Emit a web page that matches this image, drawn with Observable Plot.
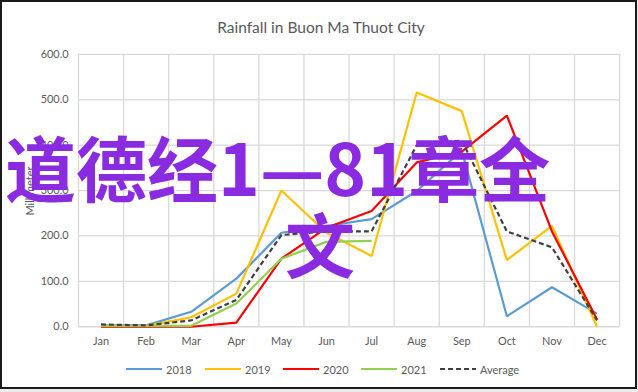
<!DOCTYPE html>
<html>
<head>
<meta charset="utf-8">
<script src="https://cdn.jsdelivr.net/npm/d3@7"></script>
<script src="https://cdn.jsdelivr.net/npm/@observablehq/plot@0.6"></script>
<style>
  html, body { margin: 0; padding: 0; background: #ececec; }
  #frame { position: absolute; left: 0; top: 0; width: 637px; height: 389px; box-sizing: border-box;
           border: 2px solid #1a1a1a; background: #fff; overflow: hidden; font-family: Lato, "Open Sans", sans-serif; }
  #title { position: absolute; left: 0; width: 638px; top: 16px; text-align: center; font-size: 15.5px; color: #595959; }
  #chart { position: absolute; left: -2px; top: 38px; }
  #ylabel { position: absolute; left: 27px; top: 189px; transform: translate(-50%, -50%) rotate(-90deg);
            font-size: 11px; color: #595959; white-space: nowrap; }
  #legend { position: absolute; top: 358px; left: 0; width: 638px; height: 18px; }
  .li { position: absolute; top: 0; height: 18px; display: flex; align-items: center; font-size: 11px; color: #595959; }
  .li svg { margin-right: 4px; }
  .over { position: absolute; color: #8A2BE2; font-family: "Noto Sans CJK SC", sans-serif; font-weight: 700;
          white-space: nowrap; line-height: 1; }
</style>
</head>
<body>
<div id="frame">
  <div id="title">Rainfall in Buon Ma Thuot City</div>
  <div id="chart"></div>
  <div id="ylabel">Millimeter</div>
  <div id="legend"></div>
  <div class="over" id="over1" style="left:3px; top:128px; font-size:71px;">道德经1—81章全</div>
  <div class="over" id="over2" style="left:283px; top:206px; font-size:70px;">文</div>
</div>
<script>
const months = ["Jan","Feb","Mar","Apr","May","Jun","Jul","Aug","Sep","Oct","Nov","Dec"];
const yTicks = [0, 100, 200, 300, 400, 500, 600];
const s2018 = [3, 3, 33, 106, 207, 222, 237, 299, 388, 23, 87, 29];
const s2019 = [0, 2, 21, 73, 300, 207, 156, 516, 475, 147, 222, 0];
const s2020 = [0, 0, 0, 9, 150, 218, 255, 362, 386, 465, 210, 16];
const s2021 = [2, 2, 2, 51, 150, 187, 189];
const sAvg  = [5, 3, 14, 59, 202, 210, 210, 400, 410, 210, 175, 14];

const seriesNames = ["2018", "2019", "2020", "2021", "Average"];
const seriesValues = [s2018, s2019, s2020, s2021, sAvg];
const seriesColors = ["#5B9BD5", "#FFC000", "#FF0000", "#92D050", "#404040"];
const seriesDash = [null, null, null, null, "5,3"];

const rows = [];
seriesNames.forEach((name, k) => {
  seriesValues[k].forEach((v, i) => rows.push({series: name, i, month: months[i], value: v}));
});

const boundaries = d3.range(months.length + 1).map(i => i - 0.5);

const marks = [
  Plot.ruleY(yTicks, {y: d => d, stroke: "#d9d9d9", strokeWidth: 1.3, strokeOpacity: 1}),
  Plot.ruleX(boundaries, {x: d => d, y1: 0, y2: 600, stroke: "#d9d9d9", strokeWidth: 1.3, strokeOpacity: 1}),
  Plot.axisX({ticks: d3.range(months.length), tickFormat: i => months[i], tickSize: 0, tickPadding: 11,
              fontSize: 11, fill: "#595959", label: null}),
  Plot.axisY({ticks: yTicks, tickFormat: d3.format(".1f"), tickSize: 0, tickPadding: 10,
              fontSize: 11, fill: "#595959", label: null})
];
seriesNames.forEach((name, k) => {
  marks.push(Plot.line(rows.filter(r => r.series === name), {
    x: "i", y: "value", stroke: seriesColors[k], strokeWidth: 2.2,
    strokeDasharray: seriesDash[k], strokeLinejoin: "miter", strokeLinecap: "butt"
  }));
});

const chart = Plot.plot({
  width: 640, height: 315,
  marginLeft: 78.6, marginRight: 16, marginTop: 14, marginBottom: 26.5,
  style: {fontFamily: "Lato, 'Open Sans', sans-serif", background: "transparent", overflow: "visible"},
  x: {type: "linear", domain: [-0.5, months.length - 0.5]},
  y: {domain: [0, 600]},
  marks
});
document.getElementById("chart").appendChild(chart);

// legend
const legendX = [124, 203, 281, 359, 438];
const legend = document.getElementById("legend");
seriesNames.forEach((name, k) => {
  const el = document.createElement("div");
  el.className = "li";
  el.style.left = legendX[k] + "px";
  el.innerHTML = `<svg width="36" height="6"><line x1="0" y1="3" x2="36" y2="3" stroke="${seriesColors[k]}" stroke-width="2.2" ${seriesDash[k] ? `stroke-dasharray="${seriesDash[k]}"` : ""}/></svg><span>${name}</span>`;
  legend.appendChild(el);
});
</script>
</body>
</html>
